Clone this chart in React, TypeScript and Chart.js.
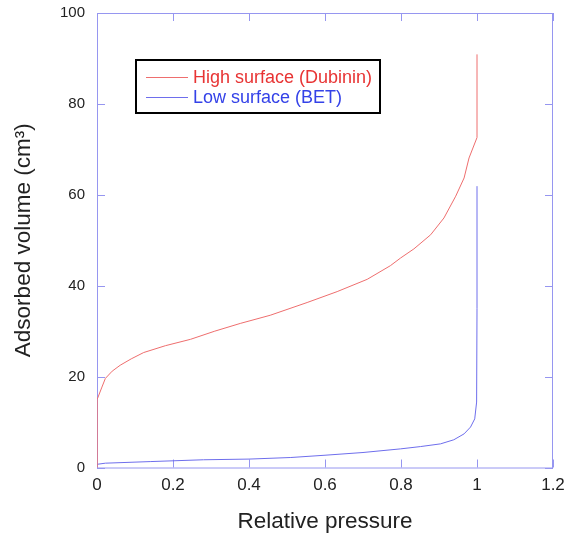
import { useEffect, useRef } from "react";
import { Chart, registerables } from "chart.js";
Chart.register(...registerables);

// High surface (Dubinin)
const highX = [0, 0, 0.001, 0.013, 0.022, 0.04, 0.061, 0.09, 0.123, 0.18, 0.246, 0.31, 0.377, 0.456, 0.553, 0.632, 0.711, 0.772, 0.799, 0.834, 0.878, 0.913, 0.944, 0.966, 0.979, 1.0, 1.0];
const highY = [0, 6, 15, 17.7, 19.6, 21.2, 22.5, 23.9, 25.3, 26.8, 28.2, 30.0, 31.7, 33.5, 36.3, 38.7, 41.4, 44.4, 46.1, 48.1, 51.2, 54.9, 59.7, 63.7, 68.1, 72.6, 90.9];

// Low surface (BET)
const lowX = [0, 0.022, 0.14, 0.28, 0.4, 0.51, 0.6, 0.7, 0.799, 0.851, 0.904, 0.939, 0.966, 0.983, 0.994, 0.999, 1.0, 1.0];
const lowY = [0.7, 0.95, 1.3, 1.7, 1.85, 2.2, 2.7, 3.3, 4.1, 4.6, 5.2, 6.1, 7.4, 8.9, 10.7, 14.4, 35, 61.9];

const seriesNames = ["High surface (Dubinin)", "Low surface (BET)"];
const lineColors = ["rgb(238,110,110)", "rgb(110,110,236)"];
const textColors = ["rgb(232,52,52)", "rgb(52,66,232)"];

const xMin = 0, xMax = 1.2, xStep = 0.2;
const yMin = 0, yMax = 100, yStep = 20;

const FONT = "'Liberation Sans', Arial, sans-serif";
const FRAME = "rgb(150,150,240)";

const framePlugin = {
  id: "frame",
  beforeDatasetsDraw(chart: any) {
    const { ctx, chartArea: a, scales } = chart;
    ctx.save();
    ctx.strokeStyle = FRAME;
    ctx.lineWidth = 1;
    ctx.strokeRect(a.left + 0.5, a.top + 0.5, a.right - a.left - 1, a.bottom - a.top);
    const L = 8;
    ctx.beginPath();
    scales.x.ticks.forEach((t: any) => {
      const px = Math.round(scales.x.getPixelForValue(t.value)) + 0.5;
      ctx.moveTo(px, a.bottom);
      ctx.lineTo(px, a.bottom - L);
      ctx.moveTo(px, a.top);
      ctx.lineTo(px, a.top + L);
    });
    scales.y.ticks.forEach((t: any) => {
      const py = Math.round(scales.y.getPixelForValue(t.value)) + 0.5;
      ctx.moveTo(a.left, py);
      ctx.lineTo(a.left + L, py);
      ctx.moveTo(a.right, py);
      ctx.lineTo(a.right - L, py);
    });
    ctx.stroke();
    ctx.restore();
  },
};

const legendPlugin = {
  id: "boxLegend",
  afterDraw(chart: any) {
    const { ctx, chartArea: a } = chart;
    const bx = a.left + 39, by = a.top + 47, bw = 244, bh = 53;
    ctx.save();
    ctx.strokeStyle = "#000";
    ctx.lineWidth = 2;
    ctx.strokeRect(bx, by, bw, bh);
    ctx.font = `18px ${FONT}`;
    ctx.textBaseline = "middle";
    seriesNames.forEach((name, i) => {
      const y = by + 17 + i * 20;
      ctx.strokeStyle = lineColors[i];
      ctx.lineWidth = 1;
      ctx.beginPath();
      ctx.moveTo(bx + 10, Math.round(y) + 0.5);
      ctx.lineTo(bx + 52, Math.round(y) + 0.5);
      ctx.stroke();
      ctx.fillStyle = textColors[i];
      ctx.fillText(name, bx + 57, y + 1);
    });
    ctx.restore();
  },
};

const zeroPad = (s: any) => {
  s.paddingLeft = 0;
  s.paddingRight = 0;
  s.paddingTop = 0;
  s.paddingBottom = 0;
};

export default function App() {
  const ref = useRef<HTMLCanvasElement | null>(null);
  useEffect(() => {
    if (!ref.current) return;
    const chart = new Chart(ref.current, {
      type: "scatter",
      data: {
        datasets: [
          {
            label: seriesNames[0],
            data: highX.map((x, i) => ({ x, y: highY[i] })),
            showLine: true,
            borderColor: lineColors[0],
            borderWidth: 1,
            pointRadius: 0,
            tension: 0,
          },
          {
            label: seriesNames[1],
            data: lowX.map((x, i) => ({ x, y: lowY[i] })),
            showLine: true,
            borderColor: lineColors[1],
            borderWidth: 1,
            pointRadius: 0,
            tension: 0,
          },
        ],
      },
      options: {
        responsive: false,
        animation: false,
        layout: { padding: { top: 13, right: 13, left: 0, bottom: 0 } },
        plugins: { legend: { display: false }, tooltip: { enabled: false } },
        scales: {
          x: {
            type: "linear",
            min: xMin,
            max: xMax,
            border: { display: false },
            grid: { display: false, drawTicks: false },
            ticks: {
              stepSize: xStep,
              padding: 8,
              color: "#222",
              maxRotation: 0,
              font: { family: FONT, size: 17 },
              callback: (v: any) => String(Number(Number(v).toFixed(1))),
            },
            title: {
              display: true,
              text: "Relative pressure",
              color: "#222",
              font: { family: FONT, size: 22.5 },
              padding: { top: 0, bottom: 4.5 },
            },
            afterFit: (s: any) => { s.height = 72.5; zeroPad(s); },
          },
          y: {
            type: "linear",
            min: yMin,
            max: yMax,
            border: { display: false },
            grid: { display: false, drawTicks: false },
            ticks: {
              stepSize: yStep,
              padding: 12,
              color: "#222",
              font: { family: FONT, size: 15 },
            },
            title: {
              display: true,
              text: "Adsorbed volume (cm³)",
              color: "#222",
              font: { family: FONT, size: 22.5 },
              padding: { top: 10, bottom: 0 },
            },
            afterFit: (s: any) => { s.width = 97; zeroPad(s); },
          },
        },
      },
      plugins: [framePlugin, legendPlugin],
    });
    return () => chart.destroy();
  }, []);
  return (
    <div style={{ position: "absolute", left: 0, top: 0, width: 566, height: 540, background: "#fff" }}>
      <canvas ref={ref} width={566} height={540} />
    </div>
  );
}
